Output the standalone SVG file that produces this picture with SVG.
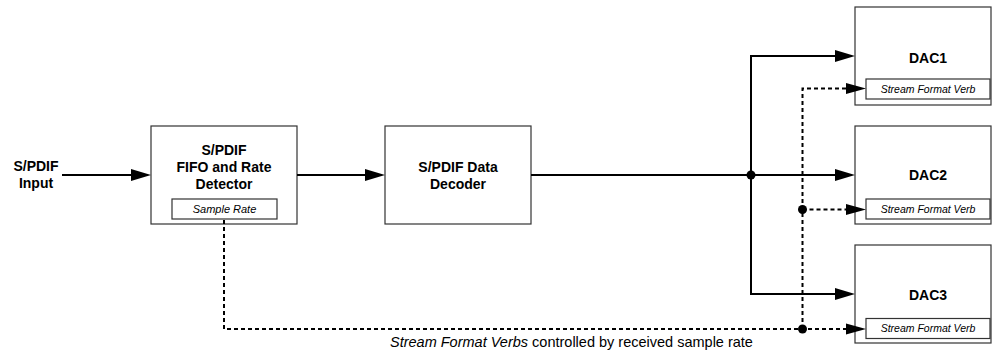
<svg xmlns="http://www.w3.org/2000/svg" width="992" height="356" viewBox="0 0 992 356">
  <defs>
    <style>
      .box { fill: #ffffff; stroke: #333333; stroke-width: 1.2; }
      .inner { fill: #ffffff; stroke: #333333; stroke-width: 1.2; }
      .lbl { font-family: "Liberation Sans", Arial, sans-serif; font-size: 14px; font-weight: bold; fill: #000; text-anchor: middle; }
      .small { font-family: "Liberation Sans", Arial, sans-serif; font-size: 10.5px; font-style: italic; fill: #000; text-anchor: middle; }
      .cap { font-family: "Liberation Sans", Arial, sans-serif; font-size: 14.5px; fill: #000; }
      .solid { fill: none; stroke: #000; stroke-width: 2; }
      .dash { fill: none; stroke: #000; stroke-width: 2; stroke-dasharray: 4 3; }
    </style>
    <marker id="arr" markerUnits="userSpaceOnUse" markerWidth="20" markerHeight="12" refX="2" refY="6" orient="auto" overflow="visible">
      <polygon points="0,0 20,6 0,12" fill="#000"/>
    </marker>
    <marker id="arrd" markerUnits="userSpaceOnUse" markerWidth="20" markerHeight="11" refX="2" refY="5.5" orient="auto" overflow="visible">
      <polygon points="0,0 20,5.5 0,11" fill="#000"/>
    </marker>
  </defs>

  <g id="input-label">
    <text class="lbl" x="36" y="171">S/PDIF</text>
    <text class="lbl" x="36" y="188">Input</text>
  </g>

  <g id="fifo">
    <rect class="box" x="151" y="126" width="146" height="98"/>
    <text class="lbl" x="224" y="154.5">S/PDIF</text>
    <text class="lbl" x="224" y="171.5">FIFO and Rate</text>
    <text class="lbl" x="224" y="188.5">Detector</text>
    <rect class="inner" x="172" y="199" width="105" height="20"/>
    <text class="small" x="224.5" y="213" style="font-size:11px">Sample Rate</text>
  </g>

  <g id="decoder">
    <rect class="box" x="385" y="126" width="146" height="98"/>
    <text class="lbl" x="458" y="171.5">S/PDIF Data</text>
    <text class="lbl" x="458" y="188.5">Decoder</text>
  </g>

  <g id="dac1">
    <rect class="box" x="855" y="7" width="136" height="98"/>
    <text class="lbl" x="928" y="63">DAC1</text>
    <rect class="inner" x="866" y="79" width="124" height="20"/>
    <text class="small" x="928" y="92.8">Stream Format Verb</text>
  </g>

  <g id="dac2">
    <rect class="box" x="855" y="126" width="136" height="98"/>
    <text class="lbl" x="928" y="180">DAC2</text>
    <rect class="inner" x="866" y="199" width="124" height="20"/>
    <text class="small" x="928" y="212.8">Stream Format Verb</text>
  </g>

  <g id="dac3">
    <rect class="box" x="855" y="245" width="136" height="98"/>
    <text class="lbl" x="928" y="300">DAC3</text>
    <rect class="inner" x="866" y="318.5" width="124" height="20"/>
    <text class="small" x="928" y="332.3">Stream Format Verb</text>
  </g>

  <g id="connectors">
    <path class="solid" d="M62,175 H133" marker-end="url(#arr)"/>
    <path class="solid" d="M297,175 H367" marker-end="url(#arr)"/>
    <path class="solid" d="M531,175 H837" marker-end="url(#arr)"/>
    <path class="solid" d="M751,175 V56 H837" marker-end="url(#arr)"/>
    <path class="solid" d="M751,175 V294 H837" marker-end="url(#arr)"/>
    <circle cx="751" cy="175" r="4.5" fill="#000"/>

    <path class="dash" d="M224,220 V329 H848" marker-end="url(#arrd)"/>
    <path class="dash" d="M802.5,329 V88.5 H848" marker-end="url(#arrd)"/>
    <path class="dash" d="M802.5,209.5 H848" marker-end="url(#arrd)"/>
    <circle cx="802.5" cy="209.5" r="4.5" fill="#000"/>
    <circle cx="802.5" cy="329" r="4.5" fill="#000"/>
  </g>

  <g id="caption">
    <text class="cap" x="390" y="347"><tspan font-style="italic">Stream Format Verbs</tspan> controlled by received sample rate</text>
  </g>
</svg>
